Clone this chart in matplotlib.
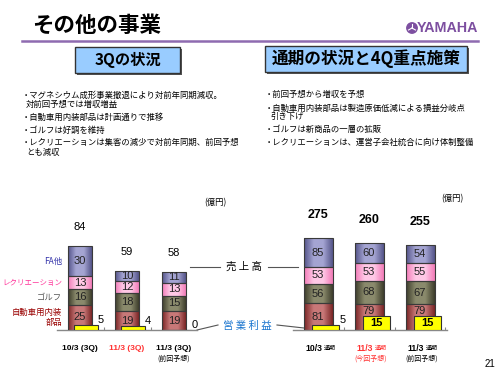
import numpy as np
import matplotlib
matplotlib.use('Agg')
import matplotlib.pyplot as plt
from matplotlib.colors import LinearSegmentedColormap
from matplotlib.patches import Rectangle, Circle

plt.rcParams['font.family'] = ['Noto Sans CJK JP', 'DejaVu Sans']
NUM = ['Liberation Sans', 'DejaVu Sans']

# segment names (bottom -> top)
seg_names = ['自動車用内装\n部品', 'ゴルフ', 'レクリエーション', 'FA他']

# 3Q (left chart)
q3_labels = ['10/3 (3Q)', '11/3 (3Q)', '11/3 (3Q)']
q3_notes = ['', '', '(前回予想)']
q3_auto = [25, 19, 19]
q3_golf = [16, 18, 15]
q3_rec = [13, 12, 13]
q3_fa = [30, 10, 11]
q3_total = [84, 59, 58]
q3_profit = [5, 4, 0]

# full year (right chart)
fy_labels = ['10/3', '11/3', '11/3']
fy_notes = ['', '(今回予想)', '(前回予想)']
fy_auto = [81, 79, 79]
fy_golf = [56, 68, 67]
fy_rec = [53, 53, 55]
fy_fa = [85, 60, 54]
fy_total = [275, 260, 255]
fy_profit = [5, 15, 15]

label_colors = ['black', '#ff3333', 'black']

bullets_left = ['・マグネシウム成形事業撤退により対前年同期減収。',
                '対前回予想では増収増益',
                '・自動車用内装部品は計画通りで推移',
                '・ゴルフは好調を維持',
                '・レクリエーションは集客の減少で対前年同期、前回予想',
                'とも減収']
bullets_right = ['・前回予想から増収を予想',
                 '・自動車用内装部品は製造原価低減による損益分岐点',
                 '引き下げ',
                 '・ゴルフは新商品の一層の拡販',
                 '・レクリエーションは、運営子会社統合に向け体制整備']

# styling
seg_grad = [('#7a2626', '#c87878'), ('#3e3e2c', '#8a8a6c'),
            ('#f27cb8', '#ffc8e6'), ('#55558a', '#a4a4d2')]
seg_text_colors = ['#990000', '#555555', '#ff3399', '#3333aa']

W, H = 500, 375
fig = plt.figure(figsize=(5, 3.75), dpi=100)
bg = fig.add_axes([0, 0, 1, 1])
bg.set_xlim(0, W)
bg.set_ylim(H, 0)
bg.axis('off')


def px_axes(x0, x1, ytop, ybot):
    a = fig.add_axes([x0 / W, 1 - ybot / H, (x1 - x0) / W, (ybot - ytop) / H])
    a.patch.set_visible(False)
    return a


def shade(ax, patch, c_edge, c_mid):
    cmap = LinearSegmentedColormap.from_list('g', [c_edge, c_mid, c_mid, c_edge])
    grad = np.linspace(0, 1, 64).reshape(1, -1)
    x0, y0 = patch.get_x(), patch.get_y()
    im = ax.imshow(grad, extent=[x0, x0 + patch.get_width(), y0, y0 + patch.get_height()],
                   aspect='auto', cmap=cmap, zorder=2, interpolation='bilinear')
    im.set_clip_path(patch)


def draw_chart(ax, parts, totals, profits, ymax, pmax, width, pw, poff, tot_kw, tot_off):
    x = np.arange(len(totals))
    bottom = np.zeros(len(x))
    for k, (vals, (ce, cm)) in enumerate(zip(parts, seg_grad)):
        bars = ax.bar(x, vals, width, bottom=bottom, facecolor='none',
                      edgecolor='#3a3a3a', linewidth=0.8, zorder=3)
        for b, v, p in zip(bars, vals, profits):
            shade(ax, b, ce, cm)
            # lift the bottom label a little where a tall profit bar covers it
            dy = 4.5 if (k == 0 and p >= 10) else 0
            ax.annotate(str(v), (b.get_x() + b.get_width() / 2, b.get_y() + b.get_height() / 2),
                        xytext=(0, dy), textcoords='offset points',
                        ha='center', va='center', fontsize=8, family=NUM, color='#222222', zorder=4)
        bottom += np.array(vals)
    for xi, t in zip(x, totals):
        ax.annotate(str(t), (xi, t), xytext=(0, tot_off), textcoords='offset points',
                    ha='center', va='center', family=NUM, **tot_kw)
    ax.set_ylim(0, ymax)
    ax.set_xticks([])
    ax.set_yticks([])
    ax.set_xticks(np.arange(len(x) + 1) - 0.5, minor=True)
    ax.tick_params(which='minor', direction='in', length=2.5, color='#888888', width=0.8)
    for s in ['top', 'left', 'right']:
        ax.spines[s].set_visible(False)
    ax.spines['bottom'].set_color('#888888')
    ax.spines['bottom'].set_linewidth(1.0)
    axp = ax.twinx()
    axp.patch.set_visible(False)
    pb = axp.bar(x + poff, profits, pw, color='#ffff00', edgecolor='#333333', linewidth=0.8, zorder=3)
    for b, p in zip(pb, profits):
        if p >= 10:
            axp.text(b.get_x() + b.get_width() / 2, p / 2, str(p), ha='center', va='center',
                     fontsize=8, weight='bold', family=NUM)
        else:
            axp.text(b.get_x() + b.get_width() + 0.01, p, str(p), ha='left', va='bottom',
                     fontsize=8, family=NUM)
    axp.set_ylim(0, pmax)
    axp.axis('off')
    return x


# left chart
ax1 = px_axes(57, 197, 230, 330)
ax1.set_xlim((57 - 80) / 47, (197 - 80) / 47)
x1 = draw_chart(ax1, [q3_auto, q3_golf, q3_rec, q3_fa], q3_total, q3_profit, 100, 100,
                24 / 47, 24 / 47, 5.5 / 47, dict(fontsize=8), 14)
ax1.set_xlim((57 - 80) / 47, (197 - 80) / 47)
for xi, lbl, note, c in zip(x1, q3_labels, q3_notes, label_colors):
    ax1.annotate(lbl, (xi, 0), xytext=(0, -13), textcoords='offset points', ha='center',
                 va='center', fontsize=6, weight='bold', color=c, family=NUM, annotation_clip=False)
    if note:
        ax1.annotate(note, (xi, 0), xytext=(0, -20.5), textcoords='offset points', ha='center',
                     va='center', fontsize=5, color=c, annotation_clip=False)
# segment names next to the first bar
cum = 0
for v, name, tc in zip([q3_auto[0], q3_golf[0], q3_rec[0], q3_fa[0]], seg_names, seg_text_colors):
    ax1.text((62 - 80) / 47, cum + v / 2, name, ha='right', va='center', multialignment='right',
             fontsize=5.4 if len(name) > 6 and '\n' not in name else 6, color=tc, linespacing=1.15)
    cum += v

# right chart
ax2 = px_axes(293, 447, 230, 330)
ax2.set_xlim((293 - 318) / 51, (447 - 318) / 51)
x2 = draw_chart(ax2, [fy_auto, fy_golf, fy_rec, fy_fa], fy_total, fy_profit, 300, 110,
                29 / 51, 27 / 51, 7.5 / 51, dict(fontsize=9, weight='bold'), 16.5)
ax2.set_xlim((293 - 318) / 51, (447 - 318) / 51)
for xi, lbl, note, c in zip(x2, fy_labels, fy_notes, label_colors):
    ax2.annotate(lbl, (xi, 0), xytext=(3, -13.5), textcoords='offset points', ha='right',
                 va='center', fontsize=6.2, weight='bold', color=c, family=NUM, annotation_clip=False)
    ax2.annotate('通期', (xi, 0), xytext=(4.5, -13.5), textcoords='offset points', ha='left',
                 va='center', fontsize=4.3, color=c, annotation_clip=False)
    if note:
        ax2.annotate(note, (xi, 0), xytext=(1.5, -20.5), textcoords='offset points', ha='center',
                     va='center', fontsize=5, color=c, annotation_clip=False)

# header
bg.text(32, 25, 'その他の事業', fontsize=15.5, weight='bold', va='center', ha='left')
bg.plot([22, 478], [41, 41], color='#8e6bb0', lw=1.8)
bg.add_patch(Circle((412, 28), 5.2, color='#7d4fa0'))
for ang in [90, 210, 330]:
    r = np.deg2rad(ang)
    bg.plot([412, 412 + 4 * np.cos(r)], [28, 28 - 4 * np.sin(r)], color='white', lw=0.8)
bg.text(478, 28.5, 'YAMAHA', ha='right', va='center', color='#7d4fa0', weight='bold',
        fontsize=10.3, family=NUM)

# title boxes
for (bx, by, bw, bh, txt, fs) in [(75, 47, 105, 26, '3Qの状況', 11),
                                  (265, 46, 202, 26, '通期の状況と4Q重点施策', 12)]:
    bg.add_patch(Rectangle((bx + 1.5, by + 1.5), bw, bh, facecolor='#555555', edgecolor='none'))
    bg.add_patch(Rectangle((bx, by), bw, bh, facecolor='#99ccff', edgecolor='#333333', lw=1.0))
    bg.text(bx + bw / 2, by + bh / 2, txt, ha='center', va='center', fontsize=fs, weight='bold')

# bullets
left_pos = [(22, 95), (26, 105), (22, 117), (22, 130), (22, 142), (26, 152)]
right_pos = [(265, 95), (265, 108), (270, 116.5), (265, 129), (265, 142)]
for (x, y), t in zip(left_pos, bullets_left):
    bg.text(x, y, t, fontsize=6, va='center', ha='left')
for (x, y), t in zip(right_pos, bullets_right):
    bg.text(x, y, t, fontsize=6, va='center', ha='left')

# connectors between charts
bg.plot([190, 220], [267, 267], color='#555555', lw=0.8)
bg.plot([268, 298], [267, 267], color='#555555', lw=0.8)
bg.text(244, 267, '売 上 高', ha='center', va='center', fontsize=7.5)
bg.plot([197, 218], [330, 325], color='#555555', lw=0.8)
bg.plot([277, 313], [325, 329], color='#555555', lw=0.8)
bg.text(247, 326, '営 業 利 益', ha='center', va='center', fontsize=7.5, color='#1a75cf')

bg.text(215, 203, '(億円)', ha='center', va='center', fontsize=6)
bg.text(452, 199, '(億円)', ha='center', va='center', fontsize=6)
bg.text(490, 364, '21', ha='center', va='center', fontsize=7, family=NUM)

fig.savefig('out.png', dpi=100)
